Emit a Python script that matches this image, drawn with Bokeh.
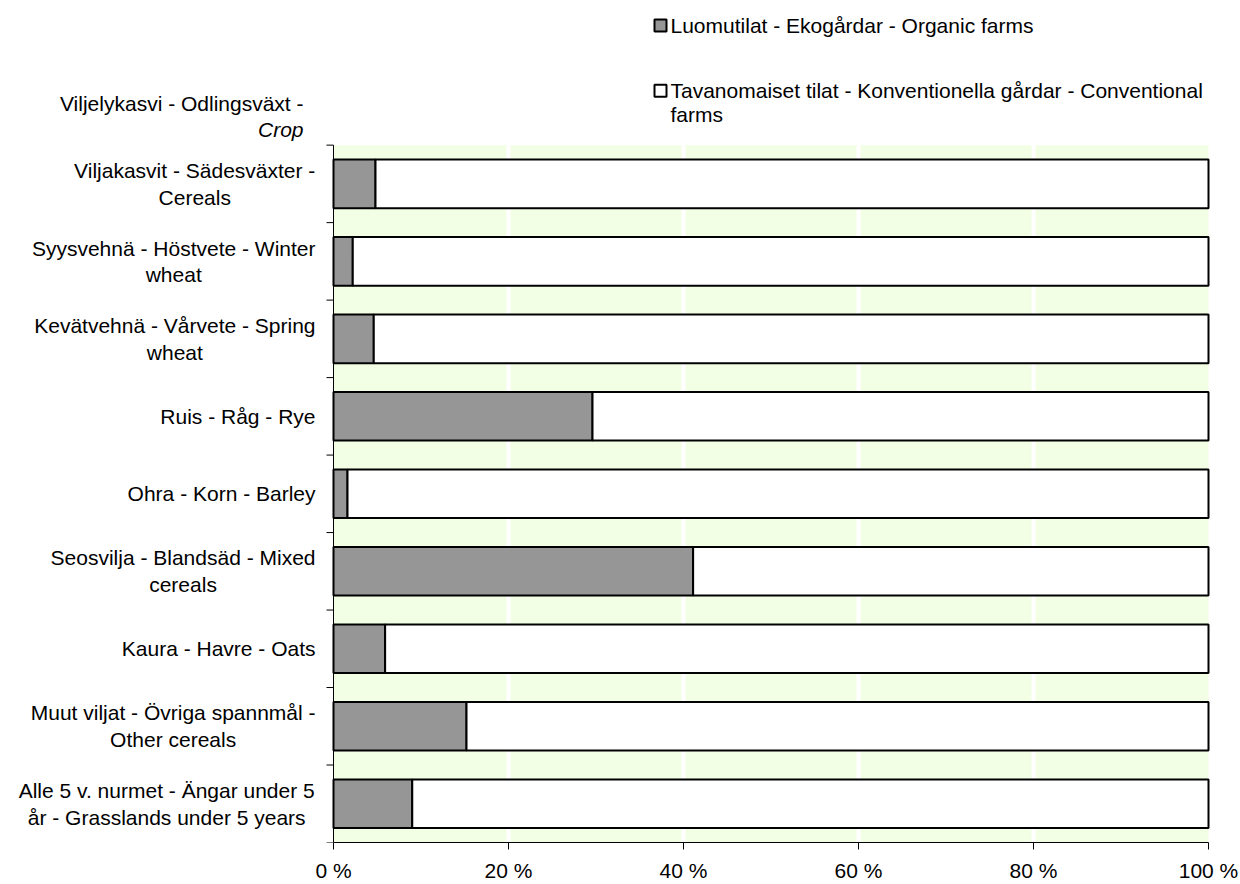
from bokeh.plotting import figure
from bokeh.models import Range1d, FixedTicker, PrintfTickFormatter
from bokeh.core.properties import value
from bokeh.embed import file_html
from bokeh.resources import INLINE

# ---------------- data ----------------
categories = [
    "Viljakasvit - Sädesväxter -\nCereals",
    "Syysvehnä - Höstvete - Winter\nwheat",
    "Kevätvehnä - Vårvete - Spring\nwheat",
    "Ruis - Råg - Rye",
    "Ohra - Korn - Barley",
    "Seosvilja - Blandsäd - Mixed\ncereals",
    "Kaura - Havre - Oats",
    "Muut viljat - Övriga spannmål -\nOther cereals",
    "Alle 5 v. nurmet - Ängar under 5\når - Grasslands under 5 years",
]
organic = [4.8, 2.2, 4.6, 29.6, 1.6, 41.1, 5.9, 15.2, 9.0]
conventional = [95.2, 97.8, 95.4, 70.4, 98.4, 58.9, 94.1, 84.8, 91.0]
x_ticks = [0, 20, 40, 60, 80, 100]
series_names = [
    "Luomutilat - Ekogårdar - Organic farms",
    "Tavanomaiset tilat - Konventionella gårdar - Conventional\nfarms",
]
header_lines = ["Viljelykasvi - Odlingsväxt -", "Crop"]

# ---------------- style / layout ----------------
FONT = "Liberation Sans"
FS = 21
GRAY = "#969696"
BG = "#F2FFE4"
PX_X = 8.75          # pixels per percent
PX_Y = 77.67         # pixels per category
W, H = 1240, 884
ORIGIN_X = 333       # page x of 0 %
BOTTOM_Y = 844       # page y of plot bottom
MARGIN = 0
FRAME_H = BOTTOM_Y - MARGIN


def px2x(px):
    return (px - ORIGIN_X) / PX_X


def py2y(py):
    return (BOTTOM_Y - py) / PX_Y


CW = {' ': 278, '-': 333, '.': 278, 'A': 667, 'B': 667, 'C': 722, 'D': 722, 'E': 667, 'F': 611,
      'G': 778, 'H': 722, 'I': 278, 'J': 500, 'K': 667, 'L': 556, 'M': 833, 'N': 722, 'O': 778,
      'P': 667, 'Q': 778, 'R': 722, 'S': 667, 'T': 611, 'U': 722, 'V': 667, 'W': 944, 'X': 667,
      'Y': 667, 'Z': 611, 'a': 556, 'b': 556, 'c': 500, 'd': 556, 'e': 556, 'f': 278, 'g': 556,
      'h': 556, 'i': 222, 'j': 222, 'k': 500, 'l': 222, 'm': 833, 'n': 556, 'o': 556, 'p': 556,
      'q': 556, 'r': 333, 's': 500, 't': 278, 'u': 556, 'v': 500, 'w': 722, 'x': 500, 'y': 500,
      'z': 500}
ACC = {'ä': 'a', 'å': 'a', 'ö': 'o', 'Ä': 'A', 'Ö': 'O', 'Å': 'A'}


def text_w(s):
    return sum(CW.get(ACC.get(c, c), 556) for c in s) / 1000.0 * FS


n = len(categories)
y_centers = [n - i - 0.5 for i in range(n)]
left_conv = organic
right_conv = [o + c for o, c in zip(organic, conventional)]

p = figure(width=W, height=H,
           x_range=Range1d(-(ORIGIN_X - MARGIN) / PX_X, (W - (ORIGIN_X - MARGIN)) / PX_X),
           y_range=Range1d(0, FRAME_H / PX_Y),
           output_backend="svg", toolbar_location=None, y_axis_location=None,
           min_border_left=0, min_border_right=0, min_border_top=0, min_border_bottom=H - FRAME_H)
p.outline_line_color = None
p.background_fill_color = "white"
p.border_fill_color = "white"
p.xgrid.visible = False
p.ygrid.visible = False

# plot area background and white grid lines
p.quad(left=[x_ticks[0]], right=[x_ticks[-1]], bottom=[0], top=[n], fill_color=BG, line_color=None)
p.segment(x0=x_ticks[1:-1], x1=x_ticks[1:-1], y0=[0] * 4, y1=[n] * 4, line_color="white", line_width=4)

# bars
bh = 0.627
p.hbar(y=y_centers, left=0, right=organic, height=bh, fill_color=GRAY, line_color="black", line_width=2)
p.hbar(y=y_centers, left=left_conv, right=right_conv, height=bh, fill_color="white",
       line_color="black", line_width=2)

# left axis line and boundary ticks
tick_len = 7 / PX_X
p.segment(x0=[0], x1=[0], y0=[0], y1=[n], line_color="black", line_width=1)
p.segment(x0=[-tick_len] * (n + 1), x1=[0] * (n + 1), y0=list(range(n + 1)), y1=list(range(n + 1)),
          line_color="black", line_width=1)

# category labels: block right-aligned, lines centred
LINE = 26.7 / PX_Y
RIGHT_EDGE = 315
lx, ly, lt = [], [], []
for cat, yc in zip(categories, y_centers):
    lines = cat.split("\n")
    maxw = max(text_w(l) for l in lines)
    cx = px2x(RIGHT_EDGE - maxw / 2)
    k = len(lines)
    for j, l in enumerate(lines):
        lx.append(cx)
        ly.append(yc + ((k - 1) / 2 - j) * LINE)
        lt.append(l)
p.text(x=lx, y=ly, text=lt, text_font=value(FONT), text_font_size=value(f"{FS}px"),
       text_align="center", text_baseline="middle", text_color="black")

# header
p.text(x=[px2x(303)], y=[py2y(103)], text=[header_lines[0]], text_font=value(FONT),
       text_font_size=value(f"{FS}px"), text_align="right", text_baseline="middle", text_color="black")
p.text(x=[px2x(303)], y=[py2y(129)], text=[header_lines[1]], text_font=value(FONT),
       text_font_size=value(f"{FS}px"), text_font_style="italic", text_align="right",
       text_baseline="middle", text_color="black")

# legend
p.scatter(x=[px2x(660)] * 2, y=[py2y(25), py2y(90.5)], marker="square", size=12,
          fill_color=[GRAY, "white"], line_color="black", line_width=2)
leg_x, leg_y, leg_t = [], [], []
for name, y0 in zip(series_names, [25, 90]):
    for j, l in enumerate(name.split("\n")):
        leg_x.append(px2x(670))
        leg_y.append(py2y(y0 + j * 24))
        leg_t.append(l)
p.text(x=leg_x, y=leg_y, text=leg_t, text_font=value(FONT), text_font_size=value(f"{FS}px"),
       text_align="left", text_baseline="middle", text_color="black")

# bottom axis
ax = p.xaxis[0]
ax.bounds = (x_ticks[0], x_ticks[-1])
ax.ticker = FixedTicker(ticks=x_ticks)
ax.formatter = PrintfTickFormatter(format="%d %%")
ax.major_label_text_font = FONT
ax.major_label_text_font_size = f"{FS}px"
ax.major_label_text_color = "black"
ax.minor_tick_line_color = None
ax.major_tick_out = 7
ax.major_tick_in = 0
ax.major_tick_line_color = "black"
ax.axis_line_color = "black"
ax.major_label_standoff = 9

open("out.html", "w").write(file_html(p, INLINE))
